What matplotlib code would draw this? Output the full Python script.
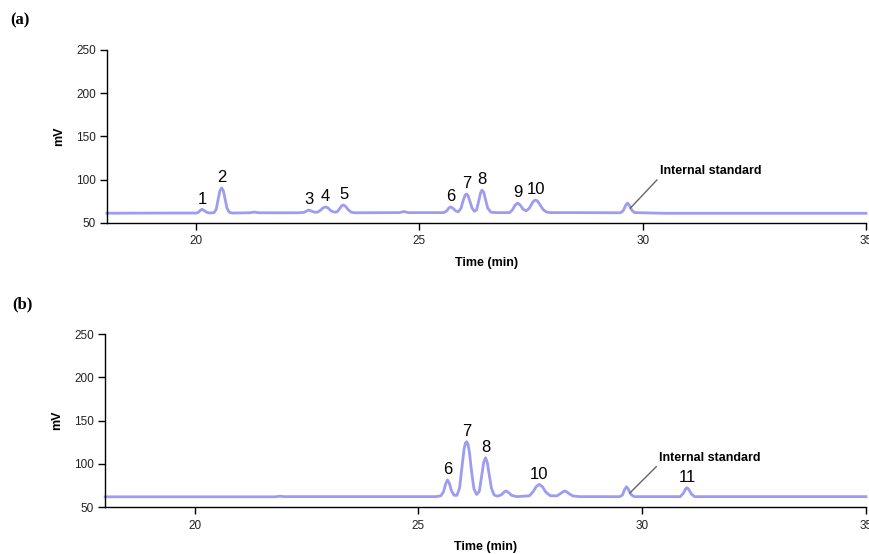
import matplotlib.pyplot as plt

# chromatogram (a): traced points, time in min, signal in mV
time_a = [18.0, 19.5, 20.0, 20.04, 20.09, 20.13, 20.18, 20.24, 20.3, 20.4, 20.45, 20.49, 20.53, 20.57,
          20.61, 20.65, 20.69, 20.74, 20.8, 21.2, 21.3, 21.4, 22.3, 22.42, 22.48, 22.52, 22.57, 22.65,
          22.72, 22.79, 22.85, 22.9, 22.95, 23.02, 23.09, 23.16, 23.22, 23.26, 23.3, 23.35, 23.4, 23.47,
          23.55, 24.55, 24.65, 24.75, 25.55, 25.61, 25.66, 25.7, 25.75, 25.81, 25.87, 25.93, 25.98, 26.02,
          26.05, 26.09, 26.13, 26.18, 26.23, 26.28, 26.33, 26.37, 26.4, 26.44, 26.48, 26.53, 26.6, 26.7,
          27.02, 27.08, 27.14, 27.2, 27.26, 27.32, 27.39, 27.46, 27.52, 27.56, 27.6, 27.65, 27.7, 27.77,
          27.85, 27.95, 28.5, 29.5, 29.56, 29.62, 29.66, 29.7, 29.76, 29.82, 30.5, 35.0]
mv_a = [61.3, 61.5, 61.5, 62.0, 64.5, 65.8, 64.3, 62.3, 61.5, 62.0, 66.0, 77.0, 87.0, 90.5,
        87.0, 77.0, 67.0, 62.5, 61.5, 61.8, 62.6, 61.8, 61.8, 62.3, 64.0, 65.0, 64.0, 62.5,
        62.5, 65.0, 67.8, 68.5, 67.5, 64.0, 62.5, 63.0, 67.0, 70.0, 70.8, 69.0, 65.5, 62.5,
        61.8, 62.0, 63.2, 62.0, 62.0, 64.0, 67.5, 68.5, 67.0, 64.0, 63.0, 67.0, 76.0, 82.0,
        83.5, 81.5, 75.0, 67.0, 63.5, 65.0, 76.0, 85.0, 88.0, 85.5, 77.0, 67.0, 62.5, 62.0,
        62.0, 65.0, 70.5, 73.0, 70.5, 66.0, 64.0, 67.0, 72.5, 75.5, 76.6, 75.0, 71.0, 65.5,
        62.5, 62.0, 62.0, 61.8, 64.0, 70.5, 73.0, 70.5, 64.5, 62.0, 61.2, 61.2]

# chromatogram (b)
time_b = [18.0, 21.8, 21.9, 22.0, 25.4, 25.5, 25.56, 25.61, 25.65, 25.69, 25.74, 25.8, 25.86, 25.92,
          25.97, 26.02, 26.05, 26.08, 26.11, 26.14, 26.19, 26.24, 26.3, 26.36, 26.41, 26.46, 26.5,
          26.54, 26.58, 26.63, 26.69, 26.76, 26.85, 26.92, 26.96, 27.01, 27.08, 27.2, 27.48, 27.56,
          27.63, 27.7, 27.77, 27.85, 27.95, 28.1, 28.2, 28.26, 28.3, 28.35, 28.45, 28.6, 29.5, 29.56,
          29.61, 29.65, 29.69, 29.75, 29.82, 30.85, 30.92, 30.97, 31.0, 31.04, 31.1, 31.17, 35.0]
mv_b = [61.8, 61.8, 62.5, 62.0, 62.0, 63.0, 67.5, 77.0, 81.2, 77.5, 68.5, 63.5, 63.5, 72.0,
        95.0, 117.0, 124.0, 125.5, 122.0, 113.0, 90.0, 71.0, 64.5, 68.0, 85.0, 102.0, 107.0,
        101.0, 88.0, 72.0, 64.0, 62.5, 64.0, 67.5, 68.5, 67.0, 63.5, 62.0, 63.0, 67.5,
        73.5, 76.2, 73.5, 67.0, 63.0, 63.0, 66.5, 68.5, 68.0, 66.0, 62.8, 62.0, 62.0, 64.0,
        70.5, 73.5, 70.5, 64.5, 62.0, 62.0, 66.0, 71.0, 72.3, 70.5, 65.0, 62.0, 62.0]

# peak labels: (label, retention time, apex mV)
labels_a = ['1', '2', '3', '4', '5', '6', '7', '8', '9', '10']
rt_a = [20.13, 20.57, 22.52, 22.9, 23.3, 25.7, 26.05, 26.4, 27.2, 27.6]
apex_a = [65.8, 90.5, 65.0, 68.5, 70.8, 68.5, 83.5, 88.0, 73.0, 76.6]

labels_b = ['6', '7', '8', '10', '11']
rt_b = [25.65, 26.08, 26.5, 27.7, 31.0]
apex_b = [81.2, 125.5, 107.0, 76.2, 72.3]

is_rt_a, is_mv_a = 29.72, 67.0
is_rt_b, is_mv_b = 29.72, 66.0

line_col = '#9c9cf0'

fig = plt.figure(figsize=(8.69, 5.54), dpi=100)
ax_a = fig.add_axes([0.123, 0.5975, 0.8735, 0.3123])
ax_b = fig.add_axes([0.121, 0.0848, 0.8755, 0.3123])


def style(ax):
    ax.set_xlim(18, 35)
    ax.set_ylim(50, 250)
    ax.set_xticks([20, 25, 30, 35])
    ax.set_yticks([50, 100, 150, 200, 250])
    for s in ['top', 'right']:
        ax.spines[s].set_visible(False)
    ax.spines['left'].set_linewidth(1.0)
    ax.spines['bottom'].set_linewidth(1.0)
    ax.tick_params(axis='both', direction='out', length=5, width=1.0,
                   labelsize=8.5, labelcolor='#222222')
    ax.tick_params(axis='x', pad=4)
    ax.tick_params(axis='y', pad=3)
    for lab in ax.get_xticklabels() + ax.get_yticklabels():
        lab.set_family('Liberation Sans')
    ax.set_xlabel('Time (min)', fontsize=9, fontweight='bold', family='Liberation Sans', labelpad=7)
    ax.set_ylabel('mV', fontsize=9, fontweight='bold', family='Liberation Sans', labelpad=8)
    ax.patch.set_alpha(0)


for ax, t, v, labs, rts, apx, isx, isy in [
        (ax_a, time_a, mv_a, labels_a, rt_a, apex_a, is_rt_a, is_mv_a),
        (ax_b, time_b, mv_b, labels_b, rt_b, apex_b, is_rt_b, is_mv_b)]:
    ax.plot(t, v, color=line_col, lw=2.0, clip_on=False, solid_joinstyle='round')
    style(ax)
    for lab, x, y in zip(labs, rts, apx):
        ax.annotate(lab, (x, y), xytext=(0, 2), textcoords='offset points',
                    ha='center', va='bottom', fontsize=12, family='Liberation Sans')
    ax.annotate('Internal standard', xy=(isx, isy), xytext=(30.38, 110 if ax is ax_a else 107),
                ha='left', va='center', fontsize=9, fontweight='bold', family='Liberation Sans',
                arrowprops=dict(arrowstyle='-', color='#666666', lw=1.0,
                                relpos=(0.0, 0.0), shrinkA=0, shrinkB=0))

fig.text(0.012, 0.963, '(a)', fontsize=12, fontweight='bold', family='Liberation Serif', va='center')
fig.text(0.014, 0.450, '(b)', fontsize=12, fontweight='bold', family='Liberation Serif', va='center')

fig.savefig('out.png', dpi=100)
